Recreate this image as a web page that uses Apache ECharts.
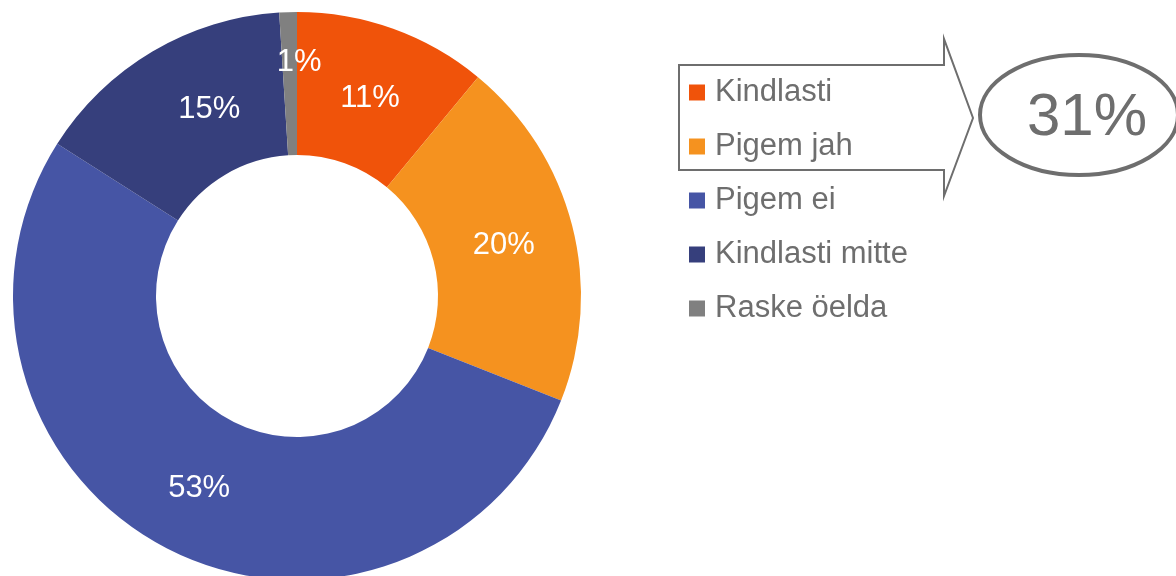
<!DOCTYPE html>
<html>
<head>
<meta charset="utf-8">
<style>
  html, body { margin: 0; padding: 0; background: #fff; }
  #chart { width: 1176px; height: 576px; }
</style>
<script src="https://cdn.jsdelivr.net/npm/echarts@6/dist/echarts.min.js"></script>
</head>
<body>
<div id="chart"></div>
<script>
const categories = ['Kindlasti', 'Pigem jah', 'Pigem ei', 'Kindlasti mitte', 'Raske öelda']
const values = [11, 20, 53, 15, 1]
const colors = ['#F0530A', '#F5921F', '#4655A5', '#363F7C', '#808080']

const gray = '#6e6e6e'
const font = '"Liberation Sans", Arial, sans-serif'

// share of the two positive answers, shown in the oval
const positive = values[0] + values[1]

// small nudges so the inside labels sit like in the original
const labelOffsets = [[0, 5], [-2, 3], [0, 0], [22, -1], [9, -18]]

const chart = echarts.init(document.getElementById('chart'))

chart.setOption({
  animation: false,
  textStyle: { fontFamily: font },
  legend: {
    orient: 'vertical',
    left: 684,
    top: 72,
    icon: 'rect',
    itemWidth: 16,
    itemHeight: 16,
    itemGap: 23,
    data: categories,
    textStyle: { fontSize: 31, color: gray, lineHeight: 30, padding: [0, 0, 0, 5] }
  },
  series: [
    {
      name: 'vastus',
      type: 'pie',
      center: [297, 296],
      radius: [141, 284],
      startAngle: 90,
      clockwise: true,
      avoidLabelOverlap: false,
      label: {
        show: true,
        position: 'inside',
        formatter: '{c}%',
        color: '#fff',
        fontSize: 31,
        fontFamily: font
      },
      labelLine: { show: false },
      emphasis: { disabled: true },
      data: categories.map((name, i) => ({
        name,
        value: values[i],
        itemStyle: { color: colors[i] },
        label: { offset: labelOffsets[i] }
      }))
    }
  ],
  graphic: [
    {
      type: 'polygon',
      shape: {
        points: [[679, 65], [944, 65], [944, 39], [973, 118], [944, 196], [944, 170], [679, 170]]
      },
      style: { fill: 'none', stroke: gray, lineWidth: 2 },
      z: -1
    },
    {
      type: 'ellipse',
      shape: { cx: 1079, cy: 115, rx: 99, ry: 60 },
      style: { fill: 'none', stroke: gray, lineWidth: 4 }
    },
    {
      type: 'text',
      x: 1087,
      y: 118,
      style: {
        text: positive + '%',
        fill: gray,
        font: '60px ' + font,
        align: 'center',
        verticalAlign: 'middle'
      }
    }
  ]
})
</script>
</body>
</html>
